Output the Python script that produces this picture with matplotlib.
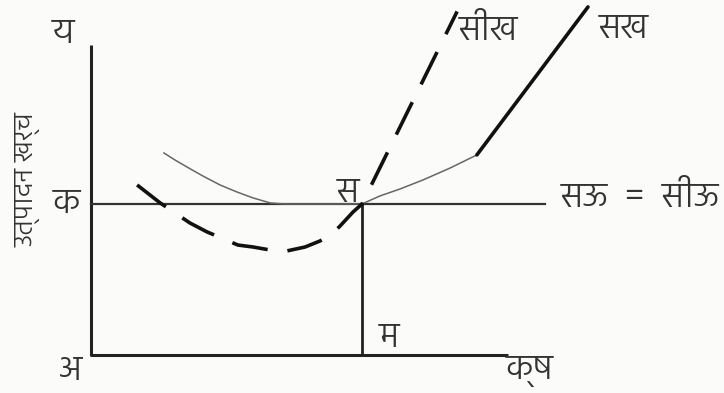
import numpy as np
import matplotlib
matplotlib.use("Agg")
from matplotlib import pyplot as plt

plt.rcParams['font.family'] = ['Hind', 'Noto Sans Devanagari', 'DejaVu Sans']

# सख : औसत खर्च (पतली वक्र + सीधी रेखा)
ac_left_x = [2.69, 3.10, 3.54, 4.13, 4.76, 5.39, 5.98, 6.61, 7.16, 10.0]
ac_left_y = [13.38, 12.91, 12.45, 11.85, 11.26, 10.79, 10.40, 10.07, 10.0, 10.0]
ac_right_x = [10.0, 10.66, 11.40, 12.25, 13.25, 14.24]
ac_right_y = [10.0, 10.53, 10.99, 11.59, 12.38, 13.25]
ac_line_x = [14.24, 18.34]
ac_line_y = [13.25, 23.05]

# सीख : सीमान्त खर्च (डैश)
mc_x = [1.70, 2.55, 3.65, 4.28, 5.42, 5.98, 6.61, 7.23, 7.90, 8.45, 8.89, 9.19, 9.67, 10.0, 13.51]
mc_y = [11.26, 10.07, 8.74, 8.15, 7.28, 7.15, 6.95, 6.89, 7.15, 7.55, 8.01, 8.54, 9.47, 10.0, 22.75]

price = 10.0      # अक = सऊ = सीऊ
q_eq = 10.0       # अम
x_end, y_end = 15.39, 20.5
price_end = 16.75

fig = plt.figure(figsize=(7.24, 3.93), dpi=100)
fig.patch.set_facecolor('#fbfbfa')
ax = fig.add_axes([0, 0, 1, 1])
ax.set_facecolor('#fbfbfa')
ax.set_xlim(-3.36, 23.36)
ax.set_ylim(-2.52, 23.51)
ax.axis('off')

# अक्ष
ax.plot([0, 0, x_end], [y_end, 0, 0], color='#222', lw=2.2, solid_capstyle='butt')
ax.plot([0, price_end], [price, price], color='#333', lw=1.6)
ax.plot([q_eq, q_eq], [0, price], color='#222', lw=2.0)

# वक्र
ax.plot(ac_left_x, ac_left_y, color='#666', lw=1.1)
ax.plot(ac_right_x, ac_right_y, color='#666', lw=1.1)
ax.plot(ac_line_x, ac_line_y, color='#111', lw=2.6, solid_capstyle='round')
ax.plot(mc_x, mc_y, color='#111', lw=2.6, dashes=(10, 5.5))

txt = dict(color='#333', fontsize=26, fontweight=300)
ax.text(-1.03, 21.3, 'य', ha='center', va='center', **txt)
ax.text(-0.92, price, 'क', ha='center', va='center', **txt)
ax.text(-0.74, -1.06, 'अ', ha='center', va='center', **txt)
ax.text(9.48, 10.73, 'स', ha='center', va='center', **txt)
ax.text(11.0, 1.13, 'म', ha='center', va='center', **txt)
ax.text(16.2, -1.0, 'क्ष', ha='center', va='center', **txt)
ax.text(13.58, 21.5, 'सीख', ha='left', va='center', **txt)
ax.text(18.75, 21.6, 'सख', ha='left', va='center', **txt)
ax.text(17.35, 10.4, 'सऊ  =  सीऊ', ha='left', va='center', **txt)
ax.text(-2.32, 11.6, 'उत्पादन खर्च', ha='center', va='center', rotation=90,
        color='#333', fontsize=20, fontweight=300)

plt.savefig('out.png', dpi=100, facecolor=fig.get_facecolor())
